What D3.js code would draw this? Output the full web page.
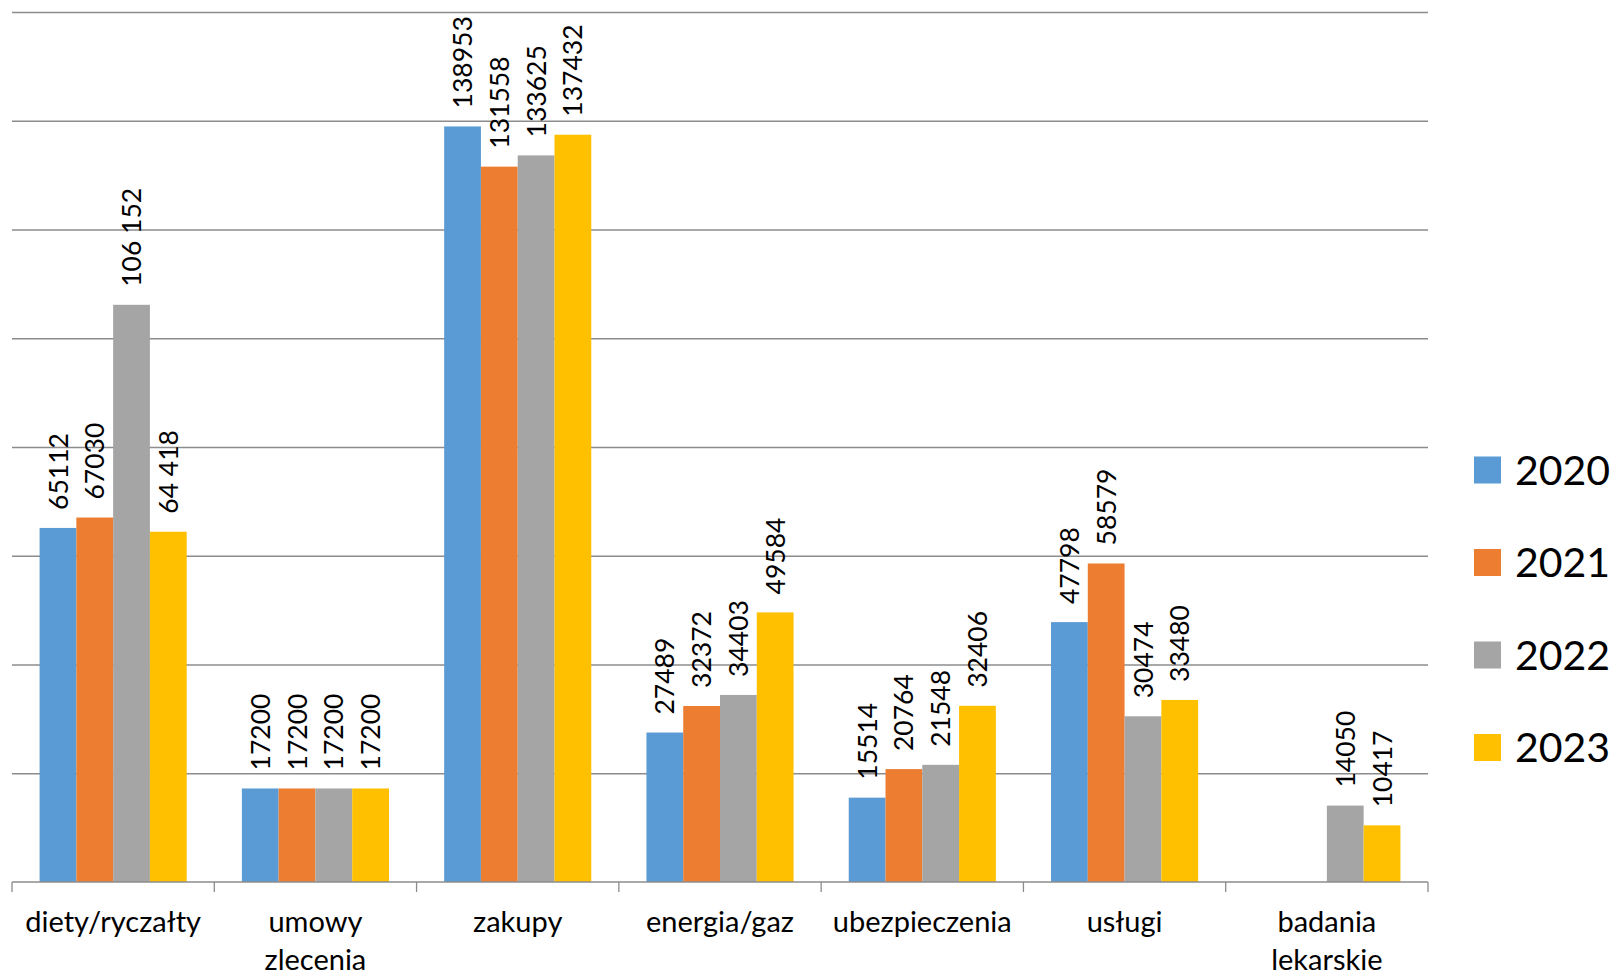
<!DOCTYPE html>
<html>
<head>
<meta charset="utf-8">
<script src="https://cdn.jsdelivr.net/npm/d3@7"></script>
<style>
  html, body { margin: 0; padding: 0; background: #fff; }
  svg { display: block; }
</style>
</head>
<body>
<svg id="chart"></svg>
<script>
// data, labels kept as they appear on the chart
const categories = ['diety/ryczałty', 'umowy zlecenia', 'zakupy', 'energia/gaz', 'ubezpieczenia', 'usługi', 'badania lekarskie'];
const years = ['2020', '2021', '2022', '2023'];
const s2020 = ['65112', '17200', '138953', '27489', '15514', '47798', null];
const s2021 = ['67030', '17200', '131558', '32372', '20764', '58579', null];
const s2022 = ['106 152', '17200', '133625', '34403', '21548', '30474', '14050'];
const s2023 = ['64 418', '17200', '137432', '49584', '32406', '33480', '10417'];
const yTicks = [0, 20000, 40000, 60000, 80000, 100000, 120000, 140000, 160000];
const colors = ['#5B9BD5', '#ED7D31', '#A5A5A5', '#FFC000'];

const series = [s2020, s2021, s2022, s2023];
const width = 1616;
const height = 975;
const margin = { top: 12, right: 188, bottom: 93, left: 12 };
const font = 'Lato, "Open Sans", sans-serif';

const svg = d3.select('#chart').attr('width', width).attr('height', height);

const x0 = d3
  .scaleBand()
  .domain(categories)
  .range([margin.left, width - margin.right]);

const x1 = d3
  .scaleBand()
  .domain(years)
  .range([0, x0.bandwidth()])
  .paddingInner(0)
  .paddingOuter(0.75);

const y = d3
  .scaleLinear()
  .domain([0, 160000])
  .range([height - margin.bottom, margin.top]);

const color = d3.scaleOrdinal().domain(years).range(colors);

const rows = [];
categories.forEach((c, i) => {
  years.forEach((yr, j) => {
    const label = series[j][i];
    if (label != null) {
      rows.push({ cat: c, year: yr, label, value: +label.replace(/\s/g, '') });
    }
  });
});

// Gridlines
svg
  .append('g')
  .call(
    d3
      .axisLeft(y)
      .tickValues(yTicks.slice(1))
      .tickSize(-(width - margin.right - margin.left))
      .tickFormat(''),
  )
  .attr('transform', `translate(${margin.left},0)`)
  .call((g) => g.select('.domain').remove())
  .call((g) => g.selectAll('line').attr('stroke', '#8c8c8c').attr('stroke-width', 1.3));

// Bars
svg
  .append('g')
  .selectAll('rect')
  .data(rows)
  .join('rect')
  .attr('x', (d) => x0(d.cat) + x1(d.year))
  .attr('y', (d) => y(d.value))
  .attr('width', x1.bandwidth())
  .attr('height', (d) => y(0) - y(d.value))
  .attr('fill', (d) => color(d.year));

// Value labels
svg
  .append('g')
  .attr('font-family', font)
  .attr('font-size', 26.5)
  .attr('fill', '#000')
  .selectAll('text')
  .data(rows)
  .join('text')
  .attr('transform', (d) => {
    const cx = x0(d.cat) + x1(d.year) + x1.bandwidth() / 2;
    return `translate(${cx},${y(d.value) - 18}) rotate(-90)`;
  })
  .attr('dy', '0.36em')
  .text((d) => d.label);

// X axis
const xAxis = svg
  .append('g')
  .attr('transform', `translate(0,${y(0)})`);

xAxis
  .append('line')
  .attr('x1', margin.left)
  .attr('x2', width - margin.right)
  .attr('stroke', '#8c8c8c')
  .attr('stroke-width', 1.3);

xAxis
  .selectAll('.tick')
  .data(d3.range(categories.length + 1))
  .join('line')
  .attr('x1', (i) => margin.left + i * x0.step())
  .attr('x2', (i) => margin.left + i * x0.step())
  .attr('y1', 0)
  .attr('y2', 10)
  .attr('stroke', '#8c8c8c')
  .attr('stroke-width', 1.3);

xAxis
  .selectAll('text')
  .data(categories)
  .join('text')
  .attr('font-family', font)
  .attr('font-size', 29)
  .attr('text-anchor', 'middle')
  .attr('fill', '#000')
  .attr('x', (d) => x0(d) + x0.bandwidth() / 2)
  .attr('y', 50)
  .each(function (d) {
    const words = d.split(' ');
    d3.select(this)
      .selectAll('tspan')
      .data(words)
      .join('tspan')
      .attr('x', x0(d) + x0.bandwidth() / 2)
      .attr('dy', (w, k) => (k === 0 ? 0 : 38))
      .text((w) => w);
  });

// Legend
const legend = svg
  .append('g')
  .attr('font-family', font)
  .attr('font-size', 41)
  .selectAll('g')
  .data(years)
  .join('g')
  .attr('transform', (d, i) => `translate(1474,${470 + i * 92.5})`);

legend
  .append('rect')
  .attr('y', -13.5)
  .attr('width', 27)
  .attr('height', 27)
  .attr('fill', (d) => color(d));

legend
  .append('text')
  .attr('x', 41)
  .attr('dy', '0.36em')
  .attr('fill', '#000')
  .text((d) => d);
</script>
</body>
</html>
